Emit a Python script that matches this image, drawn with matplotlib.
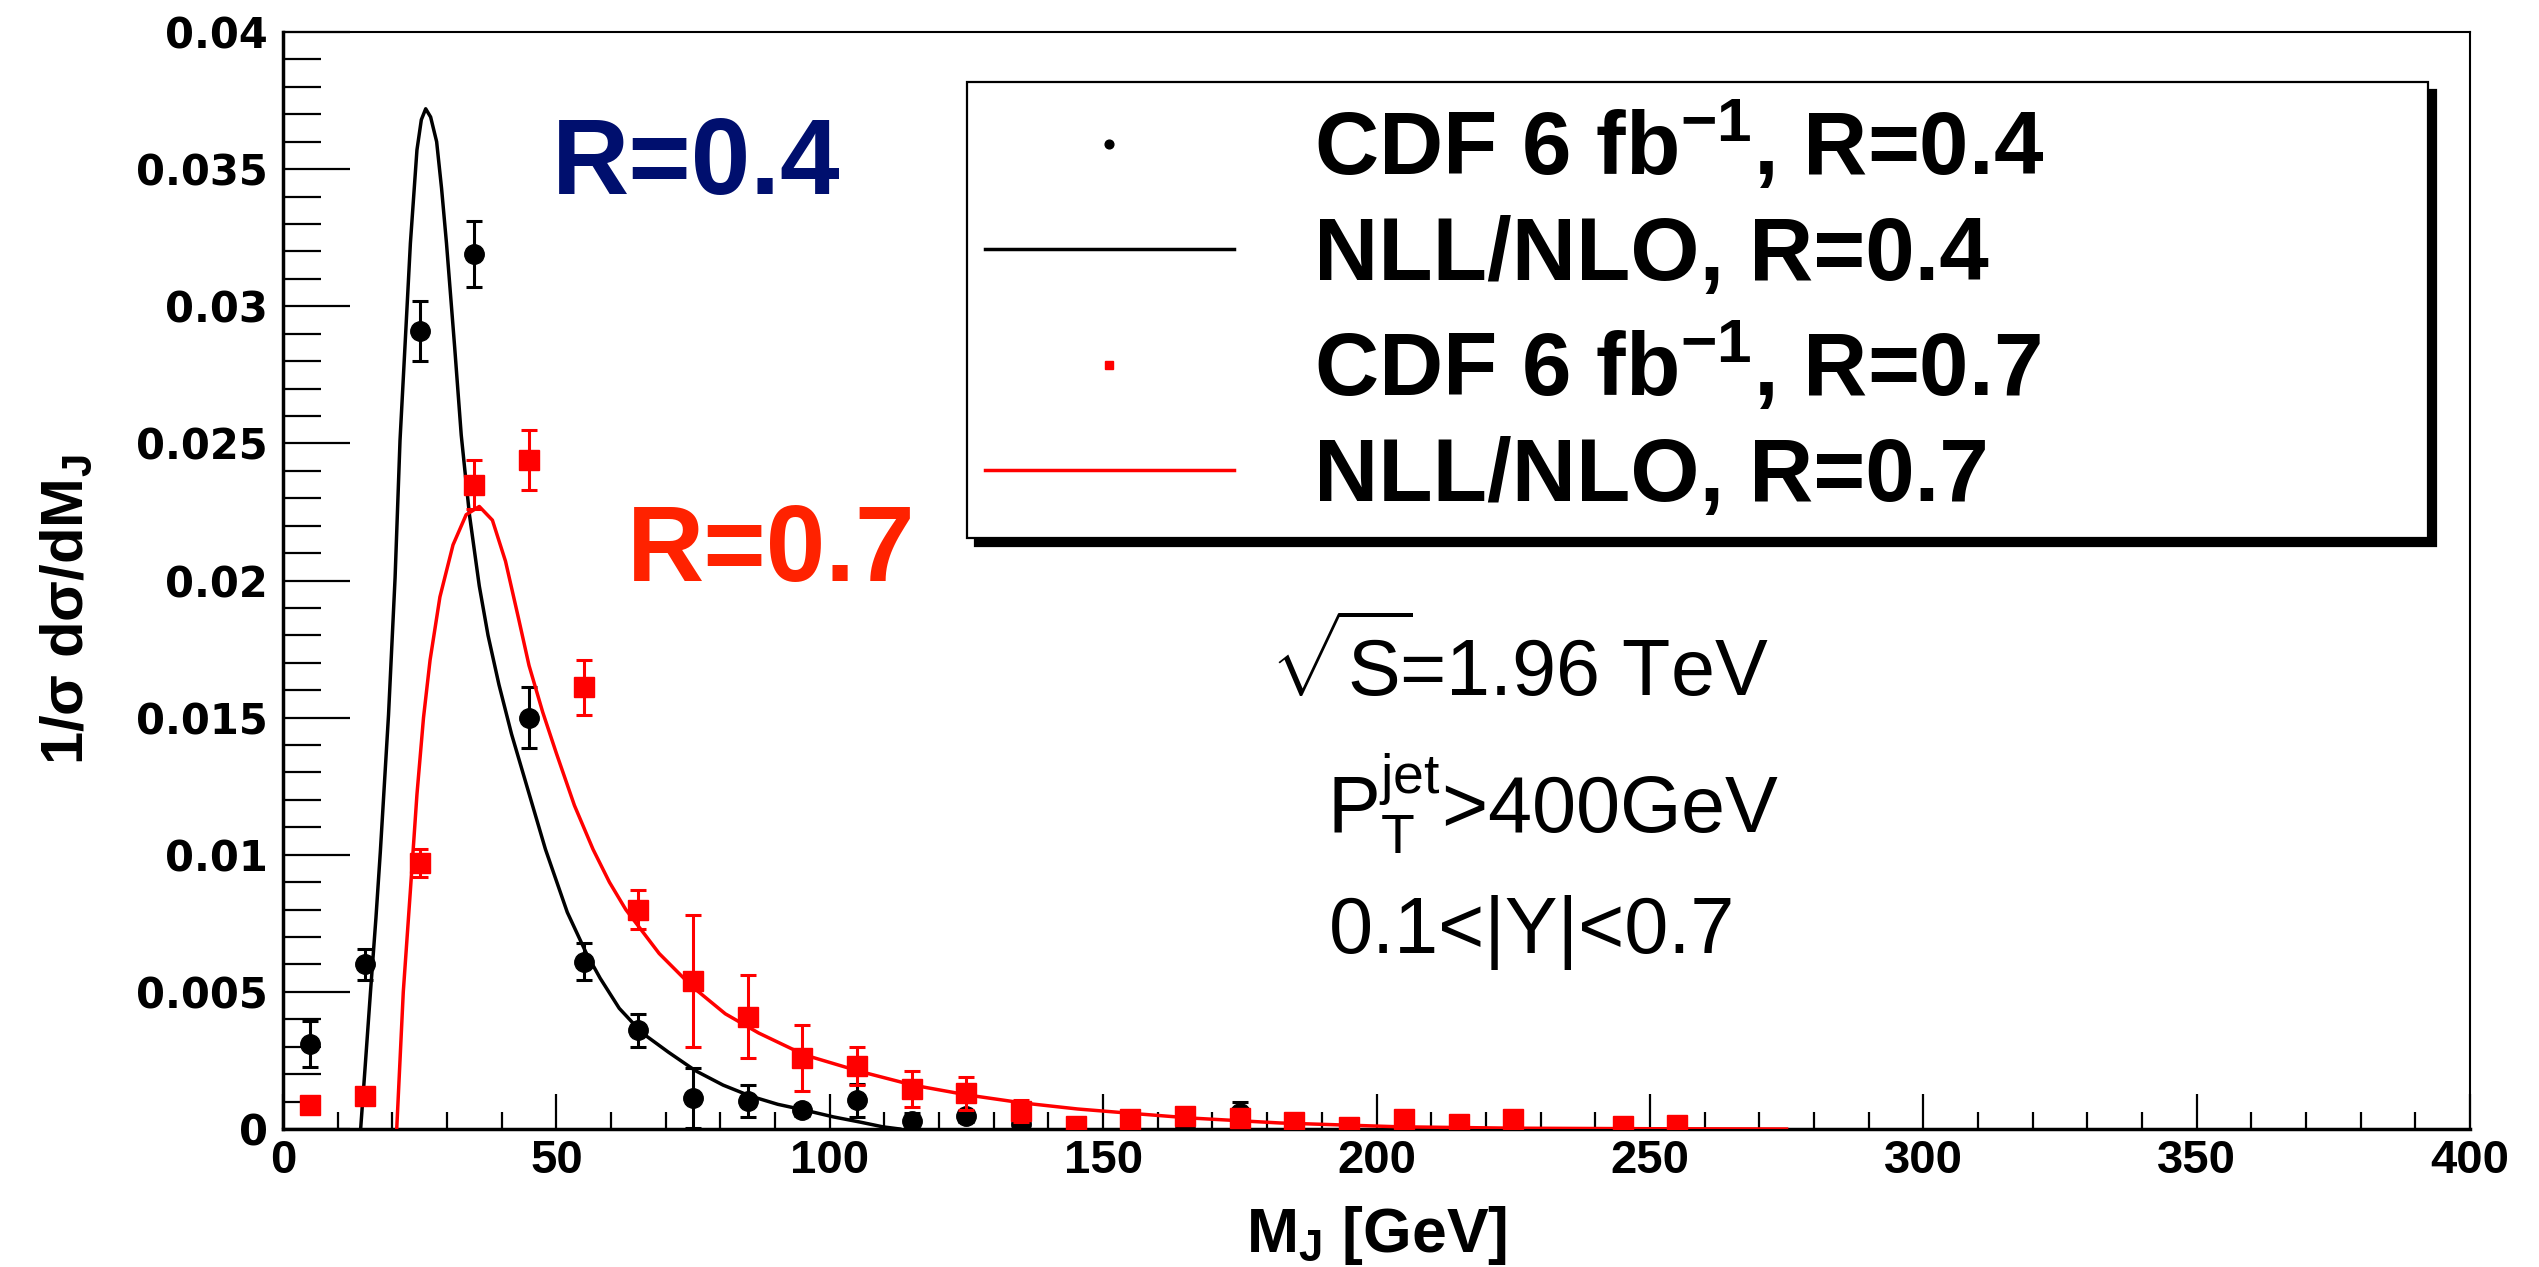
import matplotlib
matplotlib.use("Agg")
import matplotlib.pyplot as plt
from matplotlib.ticker import MultipleLocator, FuncFormatter

plt.rcParams['mathtext.fontset'] = 'custom'
plt.rcParams['mathtext.rm'] = 'Liberation Sans'
plt.rcParams['mathtext.it'] = 'Liberation Sans:italic'
plt.rcParams['mathtext.bf'] = 'Liberation Sans:bold'
plt.rcParams['mathtext.sf'] = 'Liberation Sans'
plt.rcParams['font.family'] = ['Liberation Sans', 'DejaVu Sans']

# CDF data, R=0.4 (bin centres, value, error)
mj_04 = [5, 15, 25, 35, 45, 55, 65, 75, 85, 95, 105, 115, 125, 135, 145, 155, 165, 175]
cdf_04 = [0.0031, 0.0060, 0.0291, 0.0319, 0.0150, 0.0061, 0.0036, 0.00114, 0.00102, 0.00068,
          0.00105, 0.00029, 0.00047, 0.0002, 0.0001, 0.0001, 0.00001, 0.0006]
err_04 = [0.00083, 0.00055, 0.0011, 0.0012, 0.0011, 0.00068, 0.0006, 0.0011, 0.0006, 0.0002,
          0.0006, 0.0003, 0.0002, 0.0002, 0.0, 0.0001, 0.0, 0.0004]

# CDF data, R=0.7
mj_07 = [5, 15, 25, 35, 45, 55, 65, 75, 85, 95, 105, 115, 125, 135, 145, 155, 165, 175,
         185, 195, 205, 215, 225, 245, 255]
cdf_07 = [0.00088, 0.0012, 0.0097, 0.0235, 0.0244, 0.0161, 0.0080, 0.0054, 0.0041, 0.0026,
          0.0023, 0.00145, 0.0013, 0.00066, 0.0001, 0.00035, 0.00048, 0.0004,
          0.00024, 0.00006, 0.00037, 0.0002, 0.00037, 0.0001, 0.00015]
err_07 = [0.0, 0.0, 0.0005, 0.0009, 0.0011, 0.0010, 0.0007, 0.0024, 0.0015, 0.0012,
          0.0007, 0.00066, 0.0006, 0.0004, 0.0, 0.0, 0.0, 0.0002,
          0.0, 0.0, 0.0, 0.0, 0.0, 0.0, 0.0]

# NLL/NLO curves
nll_x_04 = [14.2, 15.0, 16.0, 17.0, 17.8, 19.3, 20.5, 21.4, 22.3, 23.3, 24.5, 25.3, 26.1, 27.0,
            28.1, 29.0, 29.9, 31.4, 32.6, 34.1, 35.9, 37.5, 39.5, 41.8, 44.9, 48.0, 52.0, 55.5,
            58.0, 61.5, 65.7, 70.5, 75.4, 80.5, 85.5, 90.5, 95.6, 100.7, 105.6, 109.7, 112.8]
nll_y_04 = [0.0, 0.0022, 0.0050, 0.0077, 0.0101, 0.0151, 0.0201, 0.0251, 0.0285, 0.0323, 0.0357,
            0.0368, 0.0372, 0.0369, 0.0360, 0.0343, 0.0323, 0.0285, 0.0253, 0.0224, 0.0198,
            0.0180, 0.0162, 0.0144, 0.0123, 0.0102, 0.0079, 0.0064, 0.0055, 0.0044, 0.0035,
            0.0028, 0.00213, 0.0016, 0.0012, 0.0009, 0.00068, 0.00044, 0.00025, 0.00008, 0.0]

nll_x_07 = [20.8, 21.4, 22.0, 23.3, 24.5, 25.7, 26.9, 28.7, 31.1, 33.5, 35.9, 38.3, 40.7, 43.1,
            45.0, 47.5, 50.0, 53.3, 56.7, 59.7, 62.7, 68.8, 74.8, 80.9, 87.0, 95.4, 105.5,
            115.2, 125.2, 135.3, 145.3, 155.2, 166.0, 182.3, 204.2, 225.0, 250.0, 275.0]
nll_y_07 = [0.0, 0.0025, 0.0050, 0.0087, 0.0122, 0.0150, 0.0171, 0.0194, 0.0213, 0.0224, 0.0227,
            0.0222, 0.0207, 0.0186, 0.0169, 0.0152, 0.0137, 0.0118, 0.0102, 0.0090, 0.0080,
            0.0064, 0.0052, 0.0042, 0.0035, 0.0027, 0.0021, 0.0016, 0.00124, 0.00095,
            0.00073, 0.00057, 0.0004, 0.00022, 0.00008, 0.00003, 0.00001, 0.0]

red = '#ff0000'

fig = plt.figure(figsize=(25.39, 12.67), dpi=100)
ax = fig.add_axes([283 / 2539, 1 - 1129 / 1267, 2187 / 2539, 1097 / 1267])

eb04 = ax.errorbar(mj_04, cdf_04, yerr=err_04, fmt='o', color='black', ms=14, elinewidth=2.2,
                   capsize=6, capthick=2.2, zorder=3)
l04, = ax.plot(nll_x_04, nll_y_04, color='black', lw=2.5, zorder=4)
eb07 = ax.errorbar(mj_07, cdf_07, yerr=err_07, fmt='s', color=red, ms=14, elinewidth=2.2,
                   capsize=6, capthick=2.2, zorder=5)
l07, = ax.plot(nll_x_07, nll_y_07, color=red, lw=2.5, zorder=6)

ax.set_xlim(0, 400)
ax.set_ylim(0, 0.04)
ax.xaxis.set_major_locator(MultipleLocator(50))
ax.xaxis.set_minor_locator(MultipleLocator(10))
ax.yaxis.set_major_locator(MultipleLocator(0.005))
ax.yaxis.set_minor_locator(MultipleLocator(0.001))
ax.yaxis.set_major_formatter(FuncFormatter(lambda v, p: '%g' % round(v, 4)))
ax.xaxis.set_major_formatter(FuncFormatter(lambda v, p: '%g' % v))

ax.tick_params(axis='y', which='major', direction='in', length=48, width=1.6, pad=11)
ax.tick_params(axis='y', which='minor', direction='in', length=27, width=1.6)
ax.tick_params(axis='x', which='major', direction='in', length=25, width=1.6, pad=7)
ax.tick_params(axis='x', which='minor', direction='in', length=12, width=1.6)
for lab in ax.get_yticklabels():
    lab.set_fontfamily('DejaVu Sans')
    lab.set_fontweight('bold')
    lab.set_fontsize(30)
for lab in ax.get_xticklabels():
    lab.set_fontweight('bold')
    lab.set_fontsize(34)

ax.spines['left'].set_linewidth(2.5)
ax.spines['bottom'].set_linewidth(2.5)
ax.spines['top'].set_linewidth(1.5)
ax.spines['right'].set_linewidth(1.5)

ax.set_xlabel('M$_\\mathbf{J}$ [GeV]', fontsize=45, fontweight='bold')
ax.xaxis.set_label_coords(0.5, -0.068)
ax.set_ylabel('1/σ dσ/dM$_\\mathbf{J}$', fontsize=43, fontweight='bold')
ax.yaxis.set_label_coords(-0.086, 0.473)

handles = [eb04.lines[0], l04, eb07.lines[0], l07]
labels = ['CDF 6 fb$^{\\mathbf{-1}}$, R=0.4', 'NLL/NLO, R=0.4',
          'CDF 6 fb$^{\\mathbf{-1}}$, R=0.7', 'NLL/NLO, R=0.7']
leg = ax.legend(handles, labels, loc='upper left',
                bbox_to_anchor=(967 / 2539, 1 - 528 / 1267, 1461 / 2539, 446 / 1267),
                bbox_transform=fig.transFigure, mode='expand', borderaxespad=0,
                prop={'family': ['Liberation Sans Narrow', 'Liberation Sans'], 'weight': 'bold', 'size': 64},
                handlelength=2.8, handletextpad=0.9, labelspacing=0.24, borderpad=0.2,
                markerscale=0.45, fancybox=False, edgecolor='black', framealpha=1,
                shadow={'ox': 6, 'oy': -6, 'color': 'black', 'alpha': 1})
leg.get_frame().set_linewidth(1.6)
for h in leg.legend_handles:
    try:
        h.set_linewidth(2.5)
    except Exception:
        pass

ax.text(49.2, 0.0341, 'R=0.4', color='#000f6e', fontsize=77, fontweight='bold', va='baseline')
ax.text(62.9, 0.0200, 'R=0.7', color='#ff2200', fontsize=77, fontweight='bold', va='baseline')
ax.text(180.5, 0.01575, '$\\sqrt{\\mathrm{S}}\\!$=1.96 TeV', fontsize=57, va='baseline')
ax.text(190.9, 0.01079, 'P$_\\mathrm{T}^\\mathrm{jet}$>400GeV', fontsize=57, va='baseline')
ax.text(191.2, 0.00642, '0.1<|Y|<0.7', fontsize=57, va='baseline')

fig.savefig('out.png', dpi=100)
